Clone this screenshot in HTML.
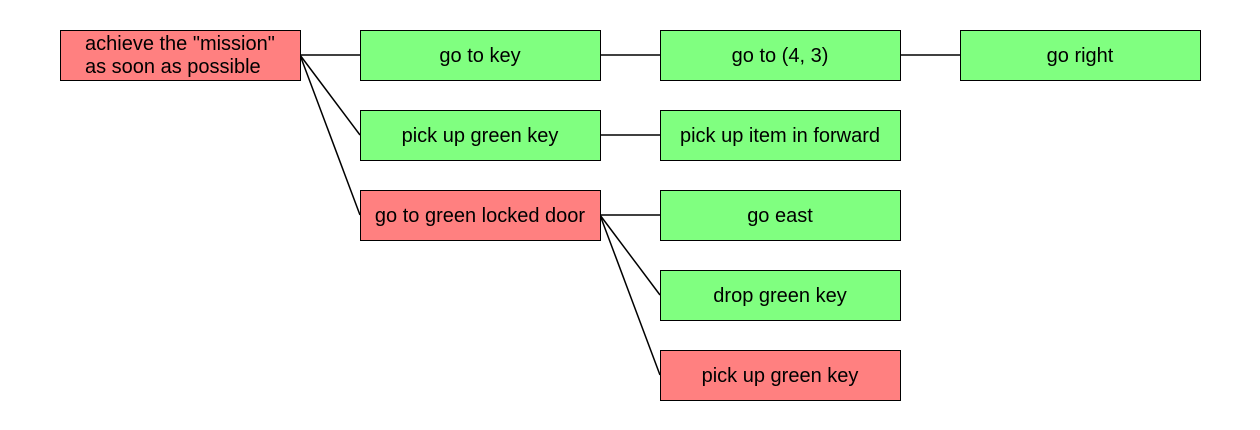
<!DOCTYPE html>
<html><head><style>body{margin:0;background:#fff}svg{display:block}</style></head><body>
<svg width="1260" height="430" xmlns="http://www.w3.org/2000/svg" font-family="Liberation Sans, Arial, sans-serif" font-size="20">
<g stroke="#000" stroke-width="1.5">
<line x1="300" y1="55" x2="360" y2="55"/>
<line x1="300" y1="55" x2="360" y2="135"/>
<line x1="300" y1="55" x2="360" y2="215"/>
<line x1="600" y1="55" x2="660" y2="55"/>
<line x1="900" y1="55" x2="960" y2="55"/>
<line x1="600" y1="135" x2="660" y2="135"/>
<line x1="600" y1="215" x2="660" y2="215"/>
<line x1="600" y1="215" x2="660" y2="295"/>
<line x1="600" y1="215" x2="660" y2="375"/>
</g>
<g stroke="#000" stroke-width="1">
<rect x="60.5" y="30.5" width="240" height="50" fill="#ff8080"/>
<rect x="360.5" y="30.5" width="240" height="50" fill="#80ff80"/>
<rect x="360.5" y="110.5" width="240" height="50" fill="#80ff80"/>
<rect x="360.5" y="190.5" width="240" height="50" fill="#ff8080"/>
<rect x="660.5" y="30.5" width="240" height="50" fill="#80ff80"/>
<rect x="660.5" y="110.5" width="240" height="50" fill="#80ff80"/>
<rect x="660.5" y="190.5" width="240" height="50" fill="#80ff80"/>
<rect x="660.5" y="270.5" width="240" height="50" fill="#80ff80"/>
<rect x="660.5" y="350.5" width="240" height="50" fill="#ff8080"/>
<rect x="960.5" y="30.5" width="240" height="50" fill="#80ff80"/>
</g>
<g fill="#000">
<text x="85" y="50">achieve the "mission"</text>
<text x="85" y="73">as soon as possible</text>
<g text-anchor="middle">
<text x="480" y="62">go to key</text>
<text x="480" y="142">pick up green key</text>
<text x="480" y="222">go to green locked door</text>
<text x="780" y="62">go to (4, 3)</text>
<text x="780" y="142">pick up item in forward</text>
<text x="780" y="222">go east</text>
<text x="780" y="302">drop green key</text>
<text x="780" y="382">pick up green key</text>
<text x="1080" y="62">go right</text>
</g></g>
</svg>
</body></html>
